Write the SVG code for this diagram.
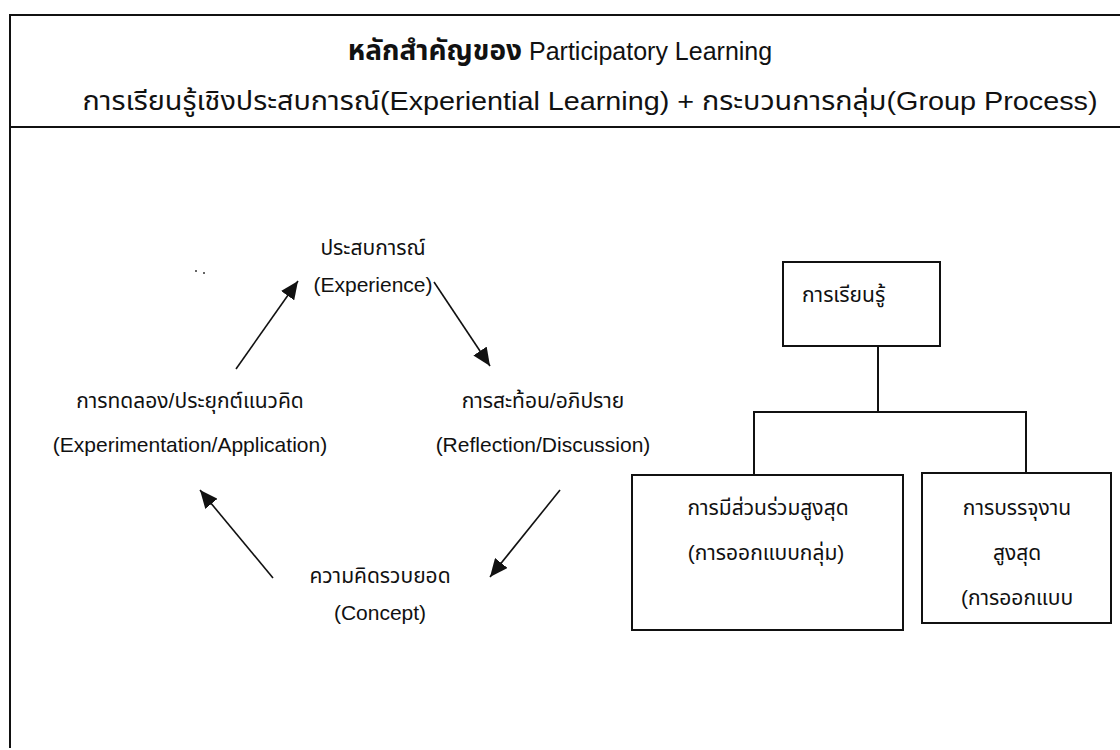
<svg xmlns="http://www.w3.org/2000/svg" width="1120" height="750" viewBox="0 0 1120 750">
<style>
text{font-family:"Liberation Sans","Noto Sans Thai","Noto Sans",sans-serif;fill:#111;}
.t{font-size:21px;text-anchor:middle;}
.frame{stroke:#111;stroke-width:2;fill:none;}
.box{stroke:#111;stroke-width:2;fill:#fff;}
.edge{stroke:#111;stroke-width:2;fill:none;}
.line{stroke:#111;stroke-width:1.6;fill:none;}
</style>
<defs>
<marker id="ah" markerUnits="userSpaceOnUse" markerWidth="20" markerHeight="16" refX="18" refY="8" orient="auto">
<path d="M0,0 L18,8 L0,16 Z" fill="#111"/>
</marker>
</defs>
<rect width="1120" height="750" fill="#fff"/>
<g id="frame">
<path class="frame" d="M1120,15 H10 V748"/>
<path class="frame" d="M10,127 H1120"/>
</g>
<g id="header">
<text x="560" y="60" font-size="25" text-anchor="middle"><tspan font-weight="bold" font-size="28">หลักสำคัญของ</tspan> Participatory Learning</text>
<text x="590" y="110" font-size="26" text-anchor="middle" textLength="1015" lengthAdjust="spacingAndGlyphs">การเรียนรู้เชิงประสบการณ์(Experiential Learning) + กระบวนการกลุ่ม(Group Process)</text>
</g>
<g id="dots" fill="#333">
<circle cx="196" cy="271" r="1"/>
<circle cx="204" cy="273" r="1"/>
</g>
<g id="experience">
<text class="t" x="373" y="255">ประสบการณ์</text>
<text class="t" x="373" y="292">(Experience)</text>
</g>
<g id="reflection">
<text class="t" x="543" y="408">การสะท้อน/อภิปราย</text>
<text class="t" x="543" y="452">(Reflection/Discussion)</text>
</g>
<g id="concept">
<text class="t" x="380" y="583">ความคิดรวบยอด</text>
<text class="t" x="380" y="620">(Concept)</text>
</g>
<g id="experimentation">
<text class="t" x="190" y="408">การทดลอง/ประยุกต์แนวคิด</text>
<text class="t" x="190" y="452">(Experimentation/Application)</text>
</g>
<g id="learning">
<rect class="box" x="783" y="262" width="157" height="84"/>
<text x="802" y="302" font-size="21">การเรียนรู้</text>
</g>
<g id="participation">
<rect class="box" x="632" y="475" width="271" height="155"/>
<text class="t" x="768" y="515">การมีส่วนร่วมสูงสุด</text>
<text class="t" x="766" y="560">(การออกแบบกลุ่ม)</text>
</g>
<g id="achievement">
<rect class="box" x="922" y="473" width="189" height="150"/>
<text class="t" x="1017" y="515">การบรรจุงาน</text>
<text class="t" x="1017" y="560">สูงสุด</text>
<text class="t" x="1017" y="605">(การออกแบบ</text>
</g>
<g id="connectors">
<line class="line" x1="236" y1="369" x2="298" y2="281" marker-end="url(#ah)"/>
<line class="line" x1="434" y1="282" x2="490" y2="366" marker-end="url(#ah)"/>
<line class="line" x1="560" y1="490" x2="490" y2="577" marker-end="url(#ah)"/>
<line class="line" x1="273" y1="578" x2="200" y2="490" marker-end="url(#ah)"/>
<path class="edge" d="M878,346 V412 M754,475 V412 H1026 V473"/>
</g>
</svg>
